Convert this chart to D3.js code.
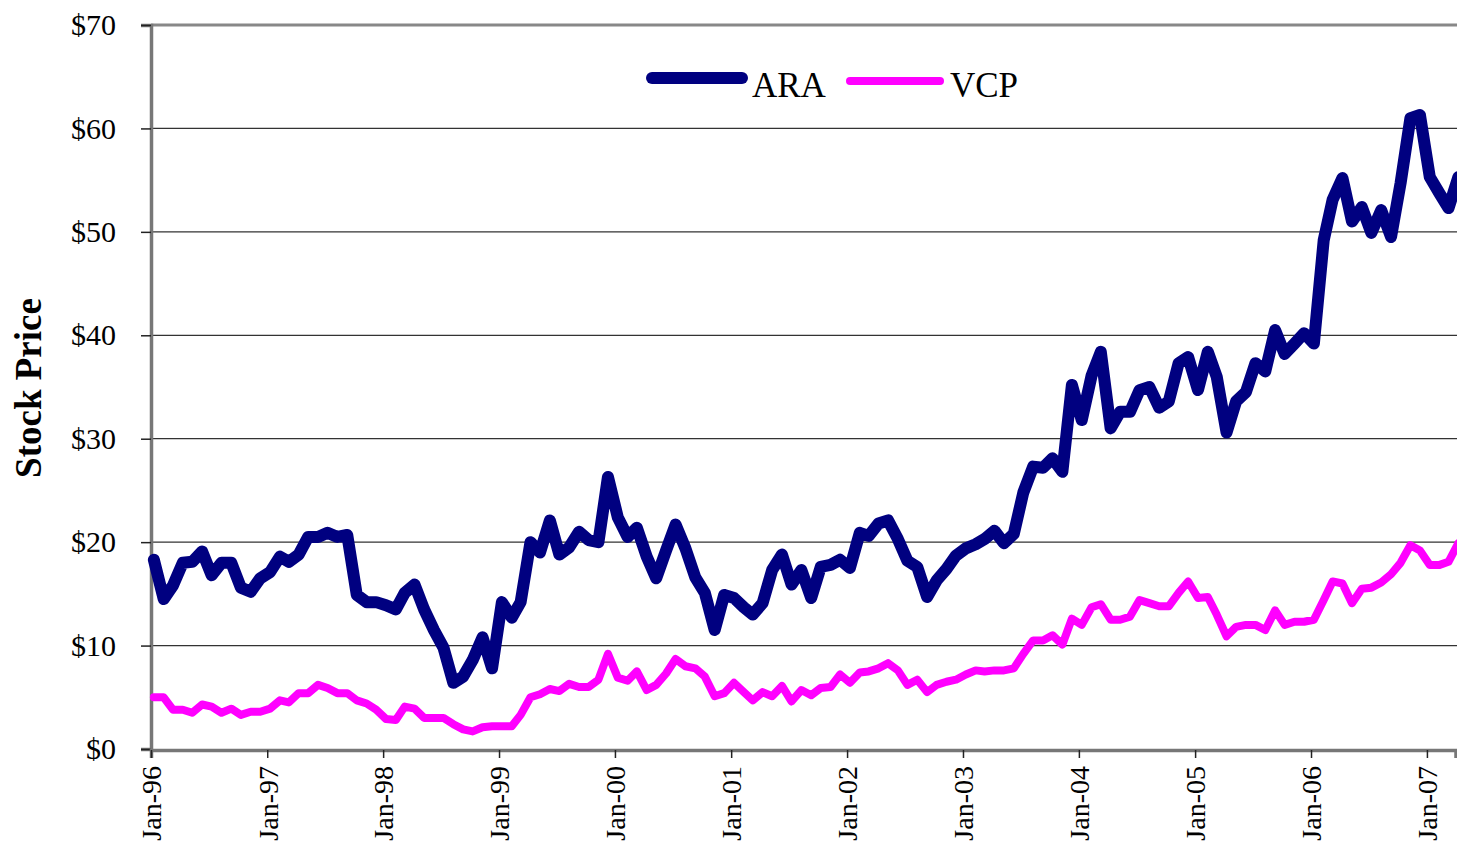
<!DOCTYPE html>
<html lang="en">
<head>
    <meta charset="UTF-8">
    <title>ARA vs VCP Stock Price</title>
    <script src="https://d3js.org/d3.v7.min.js"></script>
    <style>
        body { margin: 0; background: #fff; }
        text { font-family: "Liberation Serif", "Times New Roman", serif; fill: #000; }
    </style>
</head>
<body>
    <div id="chart"></div>
    <script>

        // monthly prices, Jan-96 .. Apr-07
        const araValues = [
            18.3, 14.5, 15.8, 18.0, 18.1, 19.1, 16.8, 18.0, 18.0, 15.6, 15.2, 16.5,
            17.1, 18.6, 18.1, 18.8, 20.5, 20.5, 20.9, 20.5, 20.7, 14.9, 14.2, 14.2,
            13.9, 13.5, 15.1, 15.9, 13.5, 11.5, 9.8, 6.4, 7.0, 8.6, 10.8, 7.8,
            14.2, 12.7, 14.2, 20.0, 19.0, 22.1, 18.8, 19.5, 21.0, 20.2, 20.0, 26.3,
            22.4, 20.5, 21.4, 18.6, 16.5, 19.2, 21.7, 19.4, 16.6, 15.1, 11.5, 14.9,
            14.6, 13.7, 13.0, 14.1, 17.3, 18.8, 15.9, 17.3, 14.6, 17.6, 17.8, 18.3,
            17.5, 20.9, 20.6, 21.8, 22.1, 20.3, 18.2, 17.6, 14.7, 16.3, 17.4, 18.7,
            19.4, 19.8, 20.3, 21.1, 19.9, 20.8, 24.8, 27.3, 27.2, 28.1, 26.8, 35.2,
            31.8, 36.1, 38.4, 31.0, 32.6, 32.6, 34.7, 35.0, 33.0, 33.6, 37.3, 37.9,
            34.7, 38.4, 36.0, 30.6, 33.6, 34.5, 37.3, 36.5, 40.5, 38.2, 39.2, 40.2,
            39.2, 49.2, 53.1, 55.2, 51.0, 52.4, 49.9, 52.1, 49.5, 54.7, 61.0, 61.3,
            55.3, 53.7, 52.3, 55.3
        ];

        const vcpValues = [
            5.0, 5.0, 3.8, 3.8, 3.5, 4.3, 4.1, 3.5, 3.9, 3.3, 3.6, 3.6,
            3.9, 4.7, 4.5, 5.4, 5.4, 6.2, 5.9, 5.4, 5.4, 4.7, 4.4, 3.8,
            2.9, 2.8, 4.1, 3.9, 3.0, 3.0, 3.0, 2.4, 1.9, 1.7, 2.1, 2.2,
            2.2, 2.2, 3.3, 5.0, 5.3, 5.8, 5.6, 6.3, 6.0, 6.0, 6.7, 9.2,
            6.9, 6.6, 7.5, 5.7, 6.2, 7.3, 8.7, 8.0, 7.8, 7.0, 5.1, 5.4,
            6.4, 5.5, 4.7, 5.5, 5.1, 6.1, 4.6, 5.7, 5.2, 5.9, 6.0, 7.2,
            6.4, 7.4, 7.5, 7.8, 8.3, 7.6, 6.2, 6.7, 5.5, 6.2, 6.5, 6.7,
            7.2, 7.6, 7.5, 7.6, 7.6, 7.8, 9.2, 10.5, 10.5, 11.0, 10.1, 12.6,
            12.0, 13.7, 14.0, 12.5, 12.5, 12.8, 14.4, 14.1, 13.8, 13.8, 15.1, 16.2,
            14.6, 14.7, 13.0, 10.9, 11.8, 12.0, 12.0, 11.5, 13.4, 12.0, 12.3, 12.3,
            12.5, 14.4, 16.2, 16.0, 14.1, 15.5, 15.6, 16.1, 16.9, 18.0, 19.7, 19.2,
            17.8, 17.8, 18.1, 19.9
        ];

        const yTicks = [0, 10, 20, 30, 40, 50, 60, 70];
        const xTickYears = [1996, 1997, 1998, 1999, 2000, 2001, 2002, 2003, 2004, 2005, 2006, 2007];

        // prices are taken a few days into each month
        const months = araValues.map((d, i) => new Date(1996, i, 10));

        const series = [
            { name: "ARA", values: araValues, color: "#000080", width: 12 },
            { name: "VCP", values: vcpValues, color: "#ff00ff", width: 8 }
        ];

        const svgWidth = 1457;
        const svgHeight = 843;
        const plotLeft = 151, plotTop = 25, plotBottom = 749, plotRight = 1462;

        const x = d3.scaleTime()
            .domain([new Date(1996, 0, 1), new Date(2007, 3, 1)])
            .range([plotLeft, 1455.5]);

        const y = d3.scaleLinear()
            .domain([0, 70])
            .range([plotBottom, plotTop]);

        const svg = d3.select("#chart")
            .append("svg")
            .attr("width", svgWidth)
            .attr("height", svgHeight);

        // horizontal gridlines
        svg.append("g")
            .selectAll("line")
            .data(yTicks.filter(d => d > 0 && d < 70))
            .join("line")
            .attr("x1", plotLeft)
            .attr("x2", plotRight)
            .attr("y1", d => y(d))
            .attr("y2", d => y(d))
            .attr("stroke", "#333")
            .attr("stroke-width", 1.2);

        // top border of the plot area
        svg.append("line")
            .attr("x1", plotLeft).attr("x2", plotRight)
            .attr("y1", y(70)).attr("y2", y(70))
            .attr("stroke", "#888")
            .attr("stroke-width", 3);

        // y axis
        const yAxis = svg.append("g")
            .attr("transform", `translate(${plotLeft},0)`)
            .call(d3.axisLeft(y).tickValues(yTicks).tickSize(10).tickPadding(25).tickFormat(d => "$" + d));
        yAxis.select(".domain").attr("stroke", "#777").attr("stroke-width", 3.5);
        yAxis.selectAll(".tick line").attr("stroke", "#222").attr("stroke-width", 1.5);
        yAxis.selectAll(".tick text")
            .style("font-family", '"Liberation Serif", "Times New Roman", serif')
            .style("font-size", "30px")
            .attr("fill", "#000");

        // x axis
        const xAxis = svg.append("g")
            .attr("transform", `translate(0,${plotBottom + 1})`)
            .call(d3.axisBottom(x)
                .tickValues(xTickYears.map(yr => new Date(yr, 0, 1)))
                .tickSize(8)
                .tickFormat(d3.timeFormat("%b-%y")));
        xAxis.select(".domain").attr("stroke", "#777").attr("stroke-width", 3.5);
        xAxis.selectAll(".tick line").attr("stroke", "#222").attr("stroke-width", 1.5);
        xAxis.selectAll(".tick text")
            .style("font-family", '"Liberation Serif", "Times New Roman", serif')
            .style("font-size", "28px")
            .attr("fill", "#000")
            .attr("text-anchor", "end")
            .attr("transform", "rotate(-90)")
            .attr("x", -16)
            .attr("y", 0)
            .attr("dy", "0.35em");

        // y axis title
        svg.append("text")
            .attr("transform", "translate(41,388) rotate(-90)")
            .attr("text-anchor", "middle")
            .style("font-size", "37px")
            .style("font-weight", "bold")
            .text("Stock Price");

        // lines
        const line = d3.line()
            .x((d, i) => x(months[i]))
            .y(d => y(d));

        series.forEach(s => {
            svg.append("path")
                .datum(s.values)
                .attr("fill", "none")
                .attr("stroke", s.color)
                .attr("stroke-width", s.width)
                .attr("stroke-linejoin", "round")
                .attr("stroke-linecap", "round")
                .attr("d", line);
        });

        // legend
        const legendItems = [
            { x1: 652, x2: 742, ly: 78, tx: 752 },
            { x1: 850, x2: 940, ly: 81, tx: 950 }
        ];
        series.forEach((s, i) => {
            const l = legendItems[i];
            svg.append("line")
                .attr("x1", l.x1).attr("x2", l.x2)
                .attr("y1", l.ly).attr("y2", l.ly)
                .attr("stroke", s.color)
                .attr("stroke-width", s.width)
                .attr("stroke-linecap", "round");
            svg.append("text")
                .attr("x", l.tx)
                .attr("y", 97)
                .style("font-size", "35px")
                .text(s.name);
        });

    </script>
</body>
</html>
